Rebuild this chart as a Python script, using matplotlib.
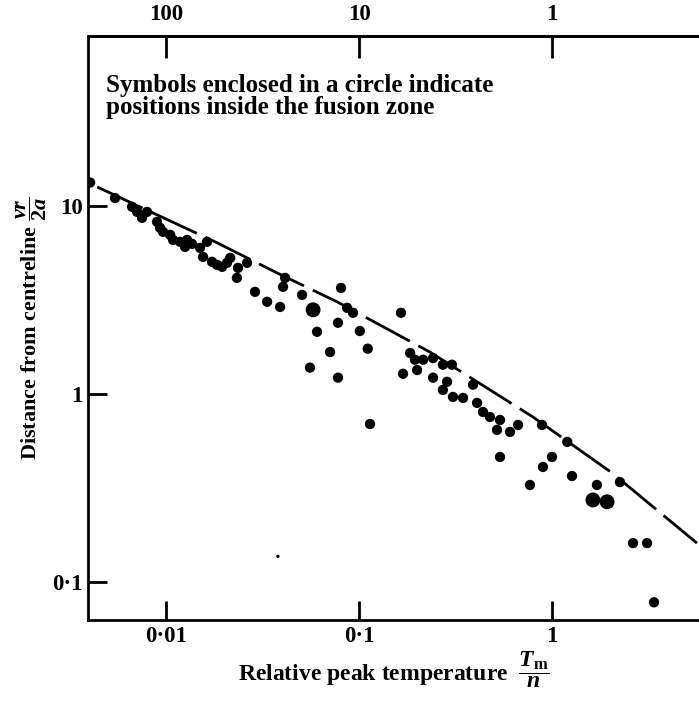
import numpy as np
import matplotlib.pyplot as plt
from matplotlib.ticker import FixedLocator, NullLocator

plt.rcParams['font.family'] = ['Liberation Serif', 'DejaVu Serif']
plt.rcParams['font.weight'] = 'bold'
plt.rcParams['axes.labelweight'] = 'bold'
plt.rcParams['mathtext.fontset'] = 'custom'
plt.rcParams['mathtext.rm'] = 'Liberation Serif:bold'
plt.rcParams['mathtext.it'] = 'Liberation Serif:italic:bold'

# measured points (relative peak temperature, distance from centreline)
pt_x = [0.00404, 0.00544, 0.00667, 0.00708, 0.00751, 0.00797, 0.00898, 0.00931,
        0.00965, 0.0105, 0.01087, 0.01182, 0.01285, 0.01364, 0.01254, 0.0150,
        0.01556, 0.0163, 0.0173, 0.01837, 0.0195, 0.0207, 0.0215, 0.0236,
        0.0233, 0.0263, 0.0289, 0.0334, 0.0390, 0.0414, 0.0404, 0.0507,
        0.0807, 0.0778, 0.0606, 0.0708, 0.0557, 0.0778, 0.0867, 0.0931,
        0.101, 0.111, 0.114, 0.165, 0.184, 0.195, 0.215, 0.242,
        0.272, 0.303, 0.200, 0.169, 0.242, 0.286, 0.272, 0.307,
        0.346, 0.390, 0.409, 0.439, 0.477, 0.538, 0.519, 0.606,
        0.667, 0.538, 0.888, 1.20, 1.0, 0.898, 0.769, 1.27,
        1.71, 2.25, 2.63, 3.11, 3.38]
pt_y = [13.3, 11.0, 9.88, 9.29, 8.63, 9.29, 8.22, 7.64,
        7.27, 7.01, 6.59, 6.44, 6.59, 6.28, 6.05, 5.98,
        5.35, 6.44, 5.04, 4.86, 4.74, 4.98, 5.29, 4.68,
        4.14, 4.98, 3.49, 3.09, 2.90, 4.14, 3.71, 3.36,
        3.66, 2.39, 2.14, 1.67, 1.38, 1.22, 2.87, 2.70,
        2.16, 1.74, 0.692, 2.70, 1.65, 1.52, 1.52, 1.55,
        1.43, 1.43, 1.34, 1.28, 1.22, 1.16, 1.05, 0.964,
        0.952, 1.12, 0.896, 0.802, 0.754, 0.727, 0.644, 0.628,
        0.684, 0.462, 0.684, 0.556, 0.462, 0.409, 0.328, 0.366,
        0.328, 0.340, 0.161, 0.161, 0.078]

# circled symbols (inside fusion zone)
fz_x = [0.0578, 1.63, 1.93]
fz_y = [2.80, 0.273, 0.267]

# stray small mark
small_x = [0.0380]
small_y = [0.137]

# calculated curve (dashed)
line_x = [0.0044, 0.0184, 0.0376, 0.0769, 0.233, 0.797, 2.05, 5.64]
line_y = [12.6, 6.36, 4.40, 3.09, 1.67, 0.754, 0.380, 0.161]

fig = plt.figure(figsize=(6.99, 7.06), dpi=100)
ax = fig.add_axes([88 / 699, 86 / 706, 1 - 88 / 699, 584 / 706])

ax.plot(line_x, line_y, color='black', lw=2, dashes=(18, 3.5))
ax.scatter(pt_x, pt_y, s=55, color='black', edgecolors='none', zorder=3)
ax.scatter(fz_x, fz_y, s=115, color='black', edgecolors='none', zorder=3)
ax.scatter(small_x, small_y, s=6, color='black', edgecolors='none', zorder=3)

ax.set_xscale('log')
ax.set_yscale('log')
ax.set_xlim(0.00394, 5.78)
ax.set_ylim(0.0628, 80)

ax.spines['right'].set_visible(False)
for s in ['left', 'bottom', 'top']:
    ax.spines[s].set_linewidth(2)

ax.xaxis.set_major_locator(FixedLocator([0.01, 0.1, 1]))
ax.xaxis.set_minor_locator(NullLocator())
ax.set_xticklabels(['0·01', '0·1', '1'])
ax.yaxis.set_major_locator(FixedLocator([0.1, 1, 10]))
ax.yaxis.set_minor_locator(NullLocator())
ax.set_yticklabels(['0·1', '1', '10'])
ax.tick_params(axis='both', direction='in', length=14, width=2, labelsize=16.5,
               top=False, right=False)
ax.tick_params(axis='x', pad=4)
ax.tick_params(axis='y', pad=4)

inv = lambda v: 1 / v
sec = ax.secondary_xaxis('top', functions=(inv, inv))
sec.xaxis.set_major_locator(FixedLocator([100, 10, 1]))
sec.xaxis.set_minor_locator(NullLocator())
sec.set_xticklabels(['100', '10', '1'])
sec.tick_params(direction='in', length=16, width=2, labelsize=16.5, pad=8)
sec.spines['top'].set_linewidth(2)

ax.set_xlabel(r'Relative peak temperature  $\dfrac{T_{\rm m}}{n}$',
              fontsize=17, labelpad=2)
ax.set_ylabel(r'Distance from centreline $\dfrac{vr}{2a}$',
              fontsize=16, labelpad=2)

ax.text(0.03, 0.935, 'Symbols enclosed in a circle indicate\npositions inside the fusion zone',
        transform=ax.transAxes, fontsize=18, va='top', ha='left', linespacing=0.95)

fig.savefig('out.png', dpi=100)
